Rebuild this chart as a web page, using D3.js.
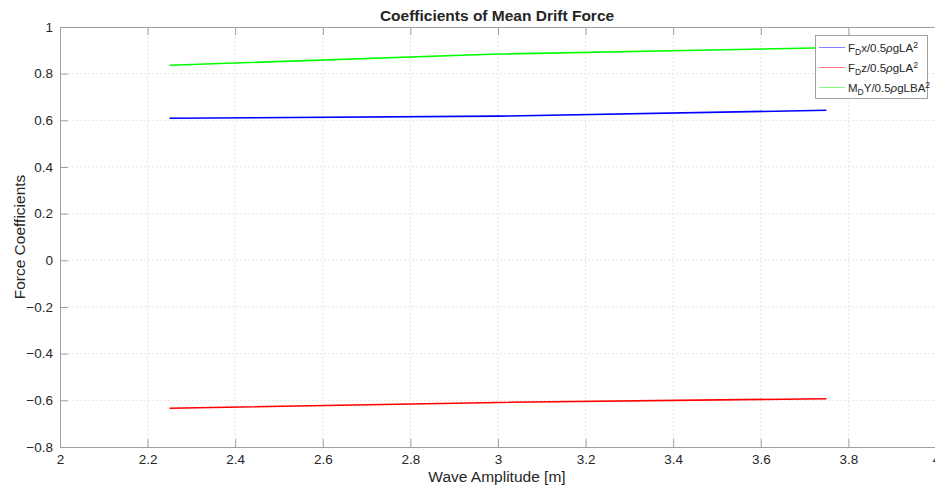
<!DOCTYPE html>
<meta charset="utf-8">
<head>
    <script src="https://d3js.org/d3.v7.min.js"></script>
    <style>
        body { margin: 0; background: #fff; }
        text { font-family: "Liberation Sans", Arial, Helvetica, sans-serif; fill: #262626; }
    </style>
</head>
<body>
<div id="chart"></div>
<script>
    // wave amplitudes [m]
    var amplitude = [2.25, 3.0, 3.75];
    // coefficients
    var fdx = [0.609, 0.618, 0.643];
    var fdz = [-0.634, -0.609, -0.593];
    var mdy = [0.836, 0.884, 0.911];
    var xTicks = [2, 2.2, 2.4, 2.6, 2.8, 3, 3.2, 3.4, 3.6, 3.8, 4];
    var yTicks = [-0.8, -0.6, -0.4, -0.2, 0, 0.2, 0.4, 0.6, 0.8, 1];

    var series = [
        {values: fdx, color: "#0000ff", legColor: "#8080ff", main: "x/0.5", tail: "gLA", sub: "D", lead: "F"},
        {values: fdz, color: "#ff0000", legColor: "#ff8080", main: "z/0.5", tail: "gLA", sub: "D", lead: "F"},
        {values: mdy, color: "#00ff00", legColor: "#80ff80", main: "Y/0.5", tail: "gLBA", sub: "D", lead: "M"}
    ];

    var W = 935, H = 489;
    var m = {left: 60, top: 27, right: -1, bottom: 42};

    var svg = d3.select("#chart").append("svg").attr("width", W).attr("height", H);

    var x = d3.scaleLinear().domain([2, 4]).range([m.left, W - m.right]);
    var y = d3.scaleLinear().domain([-0.8, 1]).range([H - m.bottom, m.top]);

    var axisCol = "#a0a0a0";

    // grid
    var g = svg.append("g");
    g.selectAll(".gx").data(xTicks.slice(1)).enter().append("line")
        .attr("x1", d => x(d)).attr("x2", d => x(d))
        .attr("y1", y(-0.8)).attr("y2", y(1))
        .attr("stroke", "#e6e6e6").attr("stroke-dasharray", "2,2");
    g.selectAll(".gy").data(yTicks.slice(1)).enter().append("line")
        .attr("x1", x(2)).attr("x2", x(4))
        .attr("y1", d => y(d)).attr("y2", d => y(d))
        .attr("stroke", "#e6e6e6").attr("stroke-dasharray", "2,2");

    // axes with inward ticks
    var xAxis = d3.axisBottom(x).tickValues(xTicks).tickSize(-8).tickPadding(7).tickFormat(d3.format("~g"));
    var yAxis = d3.axisLeft(y).tickValues(yTicks).tickSize(-8).tickPadding(7).tickFormat(d3.format("~g"));
    var xTop = d3.axisTop(x).tickValues(xTicks).tickSize(-8).tickFormat("");

    [svg.append("g").attr("transform", "translate(0," + y(-0.8) + ")").call(xAxis),
     svg.append("g").attr("transform", "translate(" + x(2) + ",0)").call(yAxis),
     svg.append("g").attr("transform", "translate(0," + y(1) + ")").call(xTop)
    ].forEach(function (a) {
        a.select(".domain").attr("stroke", axisCol);
        a.selectAll(".tick line").attr("stroke", axisCol);
        a.selectAll("text").style("font-size", "13.5px").attr("fill", "#262626");
    });

    // data lines
    var line = d3.line().x((d, i) => x(amplitude[i])).y(d => y(d));
    series.forEach(function (s) {
        svg.append("path").datum(s.values)
            .attr("d", line)
            .attr("fill", "none")
            .attr("stroke", s.color)
            .attr("stroke-width", 1.6);
    });

    // titles
    svg.append("text").attr("x", 497).attr("y", 21).attr("text-anchor", "middle")
        .style("font-size", "15.5px").style("font-weight", "bold").text("Coefficients of Mean Drift Force");
    svg.append("text").attr("x", 497).attr("y", 482).attr("text-anchor", "middle")
        .style("font-size", "15.5px").text("Wave Amplitude [m]");
    svg.append("text").attr("transform", "translate(25," + y(0.1) + ") rotate(-90)")
        .attr("text-anchor", "middle").style("font-size", "15.5px").text("Force Coefficients");

    // legend
    var leg = svg.append("g");
    leg.append("rect").attr("x", 815.5).attr("y", 35.5).attr("width", 112).attr("height", 63)
        .attr("fill", "#fff").attr("stroke", axisCol);
    series.forEach(function (s, i) {
        var ly = 47.5 + i * 20;
        leg.append("line").attr("x1", 819).attr("x2", 845).attr("y1", ly).attr("y2", ly)
            .attr("stroke", s.legColor).attr("stroke-width", 1);
        var t = leg.append("text").attr("x", 848).attr("y", ly + 4).style("font-size", "11.5px");
        t.append("tspan").text(s.lead);
        t.append("tspan").attr("dy", 3).style("font-size", "8.5px").text(s.sub);
        t.append("tspan").attr("dy", -3).text(s.main);
        t.append("tspan").style("font-style", "italic").text("\u03c1");
        t.append("tspan").text(s.tail);
        t.append("tspan").attr("dy", -4).style("font-size", "8.5px").text("2");
    });
</script>
</body>
